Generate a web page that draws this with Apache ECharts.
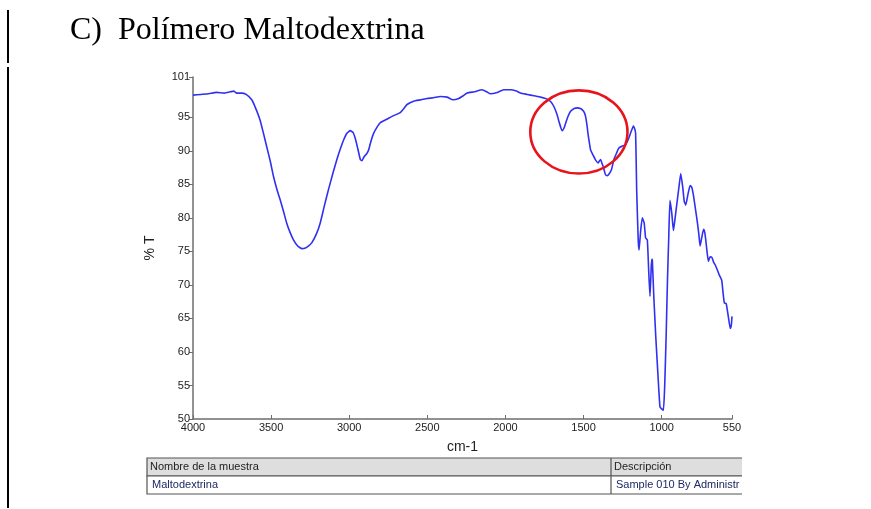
<!DOCTYPE html>
<html>
<head>
<meta charset="utf-8">
<title>Polímero Maltodextrina – FTIR</title>
<script src="https://cdn.jsdelivr.net/npm/echarts@6/dist/echarts.min.js"></script>
<style>
  html, body { margin: 0; padding: 0; background: #fff; }
  #chart { width: 871px; height: 509px; }
</style>
</head>
<body>
<div id="chart"></div>
<script>
// FTIR spectrum of maltodextrin: wavenumber (cm-1) vs transmittance (%T)
const wavenumbers = [
  4000, 3950, 3900, 3850, 3800, 3760, 3740, 3720, 3690, 3660,
  3624, 3600, 3571, 3550, 3528, 3505, 3485, 3460, 3442, 3420,
  3400, 3380, 3357, 3330, 3303, 3280, 3260, 3239, 3210, 3186,
  3160, 3133, 3105, 3079, 3055, 3036, 3015, 2994, 2975, 2962,
  2945, 2929, 2919, 2905, 2887, 2876, 2860, 2844, 2820, 2801,
  2760, 2720, 2673, 2650, 2630, 2588, 2540, 2502, 2460, 2417,
  2374, 2336, 2299, 2270, 2245, 2200, 2149, 2120, 2096, 2053,
  2011, 1968, 1930, 1904, 1860, 1818, 1775, 1733, 1710, 1690,
  1670, 1658, 1645, 1637, 1625, 1615, 1600, 1583, 1560, 1540,
  1520, 1508, 1495, 1487, 1478, 1472, 1463, 1455, 1440, 1423,
  1406, 1398, 1391, 1382, 1374, 1366, 1359, 1348, 1338, 1321,
  1306, 1290, 1274, 1252, 1231, 1210, 1195, 1181, 1172, 1167,
  1163, 1160, 1150, 1145, 1135, 1124, 1112, 1103, 1092, 1083,
  1075, 1068, 1064, 1060, 1050, 1038, 1025, 1011, 1000, 989,
  981, 972, 963, 955, 947, 935, 925, 915, 904, 890,
  878, 865, 856, 846, 832, 818, 808, 797, 785, 771,
  762, 754, 744, 732, 724, 718, 710, 701, 690, 679,
  668, 658, 645, 632, 616, 608, 599, 587, 575, 561,
  557, 553, 550
];
const transmittance = [
  98.3, 98.4, 98.5, 98.7, 98.6, 98.8, 98.9, 98.6, 98.6, 98.4,
  97.6, 96.4, 94.6, 92.7, 90.6, 88.4, 86.2, 84.0, 82.7, 80.9,
  79.2, 77.9, 76.7, 75.8, 75.4, 75.5, 75.8, 76.3, 77.6, 79.2,
  81.7, 84.2, 86.6, 88.7, 90.4, 91.6, 92.6, 93.0, 92.7, 91.9,
  90.3, 88.7, 88.5, 89.1, 89.6, 90.1, 91.5, 92.6, 93.6, 94.2,
  94.7, 95.2, 95.7, 96.3, 96.9, 97.4, 97.6, 97.8, 97.9, 98.1,
  98.0, 97.6, 97.8, 98.2, 98.6, 98.8, 99.1, 98.8, 98.5, 98.7,
  99.1, 99.1, 98.9, 98.6, 98.4, 98.2, 98.0, 97.7, 97.3, 96.6,
  95.4, 94.4, 93.4, 93.0, 93.4, 94.1, 95.1, 95.9, 96.3, 96.4,
  96.3, 96.1, 95.7, 95.1, 93.8, 92.6, 91.2, 90.1, 89.4, 88.6,
  88.2, 88.5, 88.7, 88.1, 87.6, 86.9, 86.4, 86.3, 86.5, 87.2,
  88.7, 89.6, 90.4, 90.7, 90.9, 91.9, 92.9, 93.7, 93.2, 92.6,
  88.0, 84.0, 76.5, 75.2, 78.0, 80.0, 79.2, 77.0, 76.7, 72.0,
  68.3, 72.0, 73.8, 73.7, 68.0, 62.3, 57.0, 51.8, 51.5, 51.3,
  54.8, 62.0, 70.7, 77.0, 82.6, 80.6, 78.1, 79.8, 81.9, 84.5,
  86.6, 84.5, 82.5, 81.9, 83.5, 84.8, 84.6, 83.4, 81.5, 79.2,
  77.5, 75.8, 77.0, 78.3, 77.8, 76.7, 75.0, 73.5, 74.2, 74.1,
  73.4, 73.0, 72.3, 71.5, 70.7, 69.0, 67.3, 67.2, 65.5, 63.5,
  63.7, 64.3, 65.3
];
const xTicks = [4000, 3500, 3000, 2500, 2000, 1500, 1000, 550];
const yTicks = [50, 55, 60, 65, 70, 75, 80, 85, 90, 95, 101];

// Highlighted region (carbonyl / water bending zone), in data units
const highlightCenter = [1530, 92.8];
const highlightHalfSpan = [311, 6.2];

const tableHeader = ['Nombre de la muestra', 'Descripción'];
const tableRow = ['Maltodextrina', 'Sample 010 By Administrator'];

const axisFont = "'Liberation Sans Narrow', 'Arial Narrow', 'Liberation Sans', sans-serif";
const chart = echarts.init(document.getElementById('chart'), null, { renderer: 'canvas' });

const seriesData = wavenumbers.map((w, i) => [w, transmittance[i]]);

// Table geometry
const tLeft = 147, tRight = 742, tTop = 458, tMid = 476, tBottom = 494, tCol = 611;

chart.setOption({
  animation: false,
  backgroundColor: '#fff',
  grid: { left: 193, right: 139, top: 77, bottom: 90, containLabel: false },
  xAxis: {
    type: 'value',
    inverse: true,
    min: 550,
    max: 4000,
    name: 'cm-1',
    nameLocation: 'middle',
    nameGap: 21,
    nameTextStyle: { fontFamily: axisFont, fontSize: 14, color: '#222' },
    axisLine: { show: true, lineStyle: { color: '#6e6e6e', width: 1.5 } },
    axisTick: { show: true, inside: true, length: 4, customValues: xTicks, lineStyle: { color: '#6e6e6e' } },
    axisLabel: { customValues: xTicks, formatter: v => String(v), fontFamily: axisFont, fontSize: 11, color: '#222', margin: 3 },
    splitLine: { show: false }
  },
  yAxis: {
    type: 'value',
    min: 50,
    max: 101,
    name: '% T',
    nameLocation: 'middle',
    nameGap: 36,
    nameRotate: 90,
    nameTextStyle: { fontFamily: axisFont, fontSize: 14, color: '#222' },
    axisLine: { show: true, lineStyle: { color: '#6e6e6e', width: 1.5 } },
    axisTick: { show: true, length: 4, customValues: yTicks, lineStyle: { color: '#6e6e6e' } },
    axisLabel: { customValues: yTicks, formatter: v => String(v), fontFamily: axisFont, fontSize: 11, color: '#222', margin: 3 },
    splitLine: { show: false }
  },
  series: [{
    type: 'line',
    data: seriesData,
    showSymbol: false,
    symbol: 'none',
    smooth: 0.15,
    lineStyle: { color: '#3030f2', width: 1.6 },
    z: 3
  }],
  graphic: [
    // page margin rule
    { type: 'line', shape: { x1: 8, y1: 10, x2: 8, y2: 63 }, style: { stroke: '#000', lineWidth: 2 } },
    { type: 'line', shape: { x1: 8, y1: 67, x2: 8, y2: 508 }, style: { stroke: '#000', lineWidth: 2 } },
    // heading
    {
      type: 'text', left: 70, top: 15,
      style: { text: 'C)  Polímero Maltodextrina', font: "32px 'Liberation Serif', 'Times New Roman', serif", fill: '#000' }
    },
    // sample table
    { type: 'rect', shape: { x: tLeft, y: tTop, width: tRight - tLeft + 4, height: tMid - tTop }, style: { fill: '#dedede', stroke: '#555', lineWidth: 1.2 } },
    { type: 'rect', shape: { x: tLeft, y: tMid, width: tRight - tLeft + 4, height: tBottom - tMid }, style: { fill: '#fff', stroke: '#555', lineWidth: 1.2 } },
    { type: 'line', shape: { x1: tCol, y1: tTop, x2: tCol, y2: tBottom }, style: { stroke: '#555', lineWidth: 1.2 } },
    { type: 'rect', shape: { x: tRight, y: tTop - 2, width: 20, height: tBottom - tTop + 4 }, style: { fill: '#fff' }, z: 10 },
    { type: 'text', x: tLeft + 3, y: (tTop + tMid) / 2, style: { text: tableHeader[0], font: "11px 'Liberation Sans', Arial, sans-serif", fill: '#222', verticalAlign: 'middle' }, z: 11 },
    { type: 'text', x: tCol + 3, y: (tTop + tMid) / 2, style: { text: tableHeader[1], font: "11px 'Liberation Sans', Arial, sans-serif", fill: '#222', verticalAlign: 'middle' }, z: 11 },
    { type: 'text', x: tLeft + 5, y: (tMid + tBottom) / 2, style: { text: tableRow[0], font: "11px 'Liberation Sans', Arial, sans-serif", fill: '#1d2a63', verticalAlign: 'middle' }, z: 11 },
    { type: 'text', x: tCol + 5, y: (tMid + tBottom) / 2, style: { text: tableRow[1], font: "11px 'Liberation Sans', Arial, sans-serif", fill: '#1d2a63', verticalAlign: 'middle', width: tRight - tCol - 5, overflow: 'truncate', ellipsis: '' }, z: 11 }
  ]
});

// Red ellipse marking the highlighted band, placed through the chart's own scales
const c = chart.convertToPixel({ gridIndex: 0 }, highlightCenter);
const e = chart.convertToPixel({ gridIndex: 0 }, [highlightCenter[0] - highlightHalfSpan[0], highlightCenter[1] + highlightHalfSpan[1]]);
chart.setOption({
  graphic: [{
    id: 'highlight',
    type: 'ellipse',
    shape: { cx: c[0], cy: c[1], rx: Math.abs(e[0] - c[0]), ry: Math.abs(e[1] - c[1]) },
    style: { fill: 'none', stroke: '#e8141c', lineWidth: 2.6 },
    z: 20
  }]
});
</script>
</body>
</html>
